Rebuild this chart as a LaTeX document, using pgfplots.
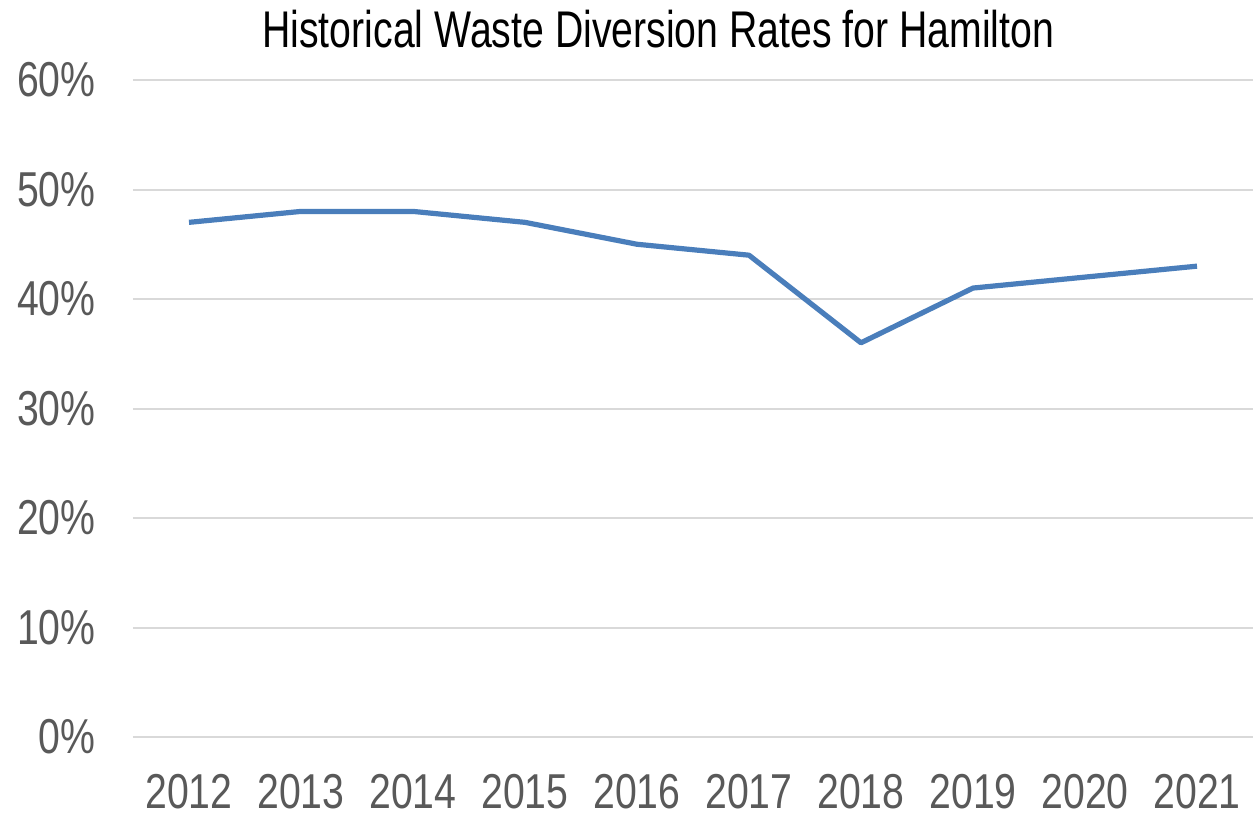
\documentclass[border=0pt]{standalone}
\usepackage{fontspec}
\setmainfont{Liberation Sans}[FakeStretch=0.8]
\newfontfamily\titlefont{Liberation Sans}[FakeStretch=0.76]
\usepackage{pgfplots}
\pgfplotsset{compat=1.18}
\definecolor{lineblue}{HTML}{4A7EBB}
\definecolor{gridgray}{HTML}{D9D9D9}
\definecolor{labgray}{HTML}{595959}
\begin{document}
\begin{tikzpicture}
\path[use as bounding box] (-66.5bp,-40bp) rectangle (560bp,368.5bp);
\begin{axis}[
  at={(0,0)}, anchor=south west,
  scale only axis,
  width=560bp, height=328.5bp,
  xmin=-0.5, xmax=9.5,
  ymin=0, ymax=60,
  ytick={0,10,20,30,40,50,60},
  xtick={0,...,9},
  xticklabels={2012,2013,2014,2015,2016,2017,2018,2019,2020,2021},
  yticklabel={\pgfmathprintnumber{\tick}\%},
  /pgf/number format/assume math mode=true,
  axis line style={draw=none},
  major tick length=0pt,
  ymajorgrids,
  grid style={draw=gridgray, line width=1bp},
  tick label style={font=\fontsize{24.5bp}{28bp}\selectfont, text=labgray},
  y tick label style={anchor=east, xshift=-15.2bp},
  x tick label style={anchor=north, inner sep=0pt, yshift=-18.5bp},
  clip=false,
]
\addplot[color=lineblue, line width=2.6bp, line join=round] coordinates {
  (0,47) (1,48) (2,48) (3,47) (4,45) (5,44) (6,36) (7,41) (8,42) (9,43)
};
\node[anchor=base, font=\titlefont\fontsize{25.8bp}{30bp}\selectfont, text=black] at (rel axis cs:0.469,1.0) [yshift=16.5bp] {Historical Waste Diversion Rates for Hamilton};
\end{axis}
\end{tikzpicture}
\end{document}
